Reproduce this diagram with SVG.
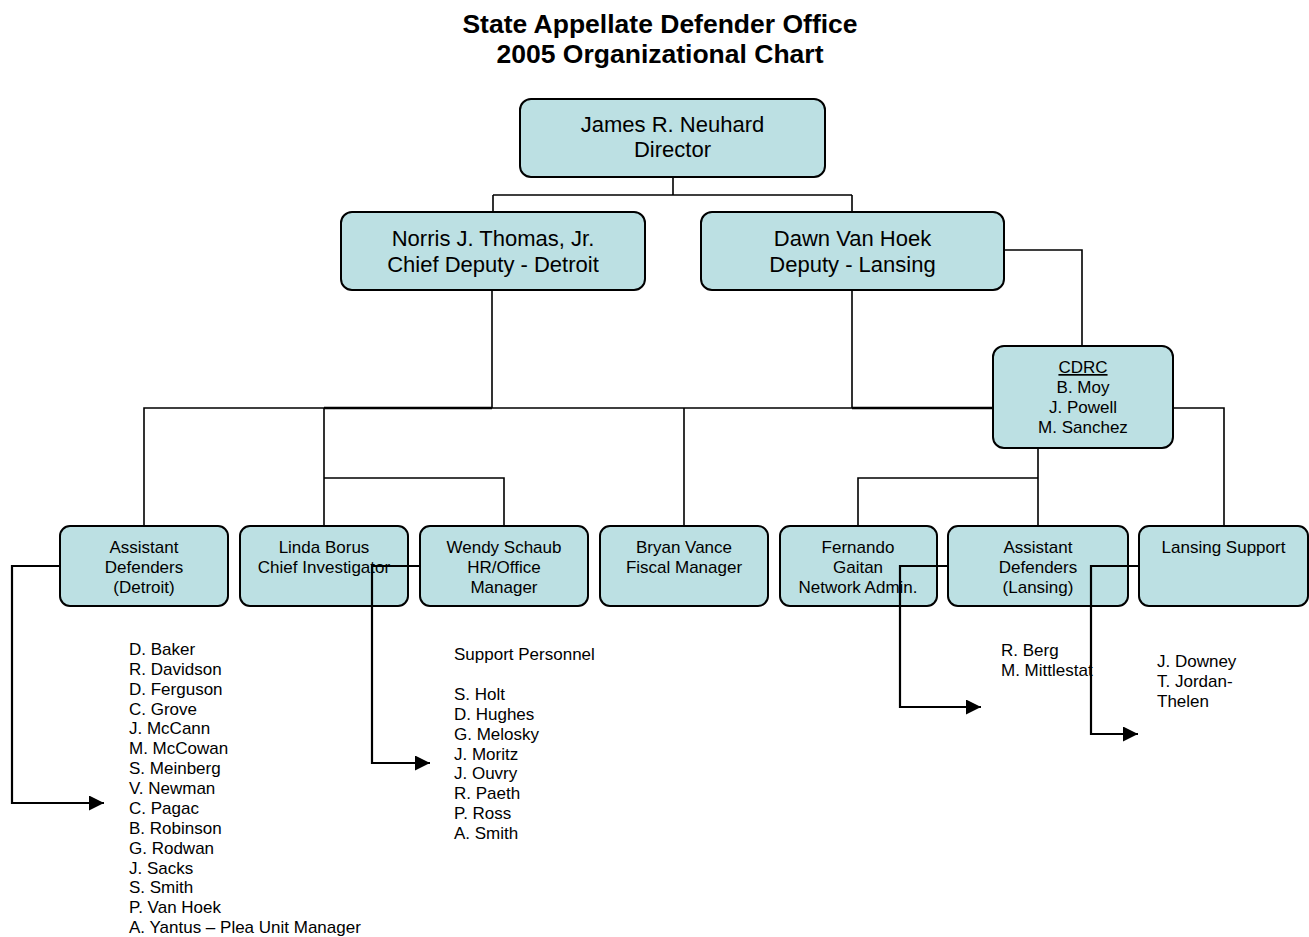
<svg xmlns="http://www.w3.org/2000/svg" width="1309" height="937" viewBox="0 0 1309 937">
<style>
text{font-family:"Liberation Sans",Arial,sans-serif;fill:#000}
.title{font-size:26.5px;font-weight:bold;text-anchor:middle}
.box{fill:#BCE0E3;stroke:#000;stroke-width:2}
.big{font-size:22px;text-anchor:middle}
.sm{font-size:17px;text-anchor:middle}
.list{font-size:17px}
.ln{fill:none;stroke:#000;stroke-width:1.6}
.thk{fill:none;stroke:#000;stroke-width:2.6}
.arr{fill:none;stroke:#000;stroke-width:2.2;marker-end:url(#ah)}
</style>
<defs>
<marker id="ah" viewBox="0 0 15 15" refX="15" refY="7.5" markerWidth="15" markerHeight="15" markerUnits="userSpaceOnUse" orient="auto">
<path d="M0,0 L15,7.5 L0,15 z" fill="#000"/>
</marker>
</defs>
<rect width="1309" height="937" fill="#fff"/>
<g id="title">
<text class="title" x="660" y="33">State Appellate Defender Office</text>
<text class="title" x="660" y="63">2005 Organizational Chart</text>
</g>
<g id="director">
<rect class="box" x="520" y="99" width="305" height="78" rx="11"/>
<text class="big" x="672.5" y="132">James R. Neuhard</text>
<text class="big" x="672.5" y="157">Director</text>
</g>
<g id="norris">
<rect class="box" x="341" y="212" width="304" height="78" rx="11"/>
<text class="big" x="493" y="246">Norris J. Thomas, Jr.</text>
<text class="big" x="493" y="272">Chief Deputy - Detroit</text>
</g>
<g id="dawn">
<rect class="box" x="701" y="212" width="303" height="78" rx="11"/>
<text class="big" x="852.5" y="246">Dawn Van Hoek</text>
<text class="big" x="852.5" y="272">Deputy - Lansing</text>
</g>
<g id="cdrc">
<rect class="box" x="993" y="346" width="180" height="102" rx="11"/>
<text class="sm" x="1083" y="373" text-decoration="underline">CDRC</text>
<text class="sm" x="1083" y="393">B. Moy</text>
<text class="sm" x="1083" y="413">J. Powell</text>
<text class="sm" x="1083" y="433">M. Sanchez</text>
</g>
<g id="asst-detroit">
<rect class="box" x="60" y="526" width="168" height="80" rx="10"/>
<text class="sm" x="144" y="553">Assistant</text>
<text class="sm" x="144" y="573">Defenders</text>
<text class="sm" x="144" y="593">(Detroit)</text>
</g>
<g id="linda">
<rect class="box" x="240" y="526" width="168" height="80" rx="10"/>
<text class="sm" x="324" y="553">Linda Borus</text>
<text class="sm" x="324" y="573">Chief Investigator</text>
</g>
<g id="wendy">
<rect class="box" x="420" y="526" width="168" height="80" rx="10"/>
<text class="sm" x="504" y="553">Wendy Schaub</text>
<text class="sm" x="504" y="573">HR/Office</text>
<text class="sm" x="504" y="593">Manager</text>
</g>
<g id="bryan">
<rect class="box" x="600" y="526" width="168" height="80" rx="10"/>
<text class="sm" x="684" y="553">Bryan Vance</text>
<text class="sm" x="684" y="573">Fiscal Manager</text>
</g>
<g id="fernando">
<rect class="box" x="780" y="526" width="157" height="80" rx="10"/>
<text class="sm" x="858" y="553">Fernando</text>
<text class="sm" x="858" y="573">Gaitan</text>
<text class="sm" x="858" y="593">Network Admin.</text>
</g>
<g id="asst-lansing">
<rect class="box" x="948" y="526" width="180" height="80" rx="10"/>
<text class="sm" x="1038" y="553">Assistant</text>
<text class="sm" x="1038" y="573">Defenders</text>
<text class="sm" x="1038" y="593">(Lansing)</text>
</g>
<g id="lansing-support">
<rect class="box" x="1139" y="526" width="169" height="80" rx="10"/>
<text class="sm" x="1223.5" y="553">Lansing Support</text>
</g>
<g id="list-detroit">
<text class="list" x="129" y="655">D. Baker</text>
<text class="list" x="129" y="674.9">R. Davidson</text>
<text class="list" x="129" y="694.7">D. Ferguson</text>
<text class="list" x="129" y="714.6">C. Grove</text>
<text class="list" x="129" y="734.4">J. McCann</text>
<text class="list" x="129" y="754.3">M. McCowan</text>
<text class="list" x="129" y="774.2">S. Meinberg</text>
<text class="list" x="129" y="794">V. Newman</text>
<text class="list" x="129" y="813.9">C. Pagac</text>
<text class="list" x="129" y="833.7">B. Robinson</text>
<text class="list" x="129" y="853.6">G. Rodwan</text>
<text class="list" x="129" y="873.5">J. Sacks</text>
<text class="list" x="129" y="893.3">S. Smith</text>
<text class="list" x="129" y="913.2">P. Van Hoek</text>
<text class="list" x="129" y="933">A. Yantus – Plea Unit Manager</text>
</g>
<g id="list-support">
<text class="list" x="454" y="660">Support Personnel</text>
<text class="list" x="454" y="700">S. Holt</text>
<text class="list" x="454" y="719.9">D. Hughes</text>
<text class="list" x="454" y="739.7">G. Melosky</text>
<text class="list" x="454" y="759.6">J. Moritz</text>
<text class="list" x="454" y="779.4">J. Ouvry</text>
<text class="list" x="454" y="799.3">R. Paeth</text>
<text class="list" x="454" y="819.2">P. Ross</text>
<text class="list" x="454" y="839">A. Smith</text>
</g>
<g id="list-network">
<text class="list" x="1001" y="656">R. Berg</text>
<text class="list" x="1001" y="676">M. Mittlestat</text>
</g>
<g id="list-lansing">
<text class="list" x="1157" y="667">J. Downey</text>
<text class="list" x="1157" y="687">T. Jordan-</text>
<text class="list" x="1157" y="707">Thelen</text>
</g>
<g id="connectors">
<path class="ln" d="M673,177 V195 M493,195 H852 M493,195 V212 M852,195 V212"/>
<path class="ln" d="M492,290 V408 M852,290 V408 M144,526 V408 H993"/>
<path class="thk" d="M324,408 H492 M852,408 H993"/>
<path class="ln" d="M324,408 V526 M324,478 H504 V526 M684,408 V526"/>
<path class="ln" d="M1004,250 H1082 V346 M1173,408 H1224 V526 M1038,448 V526 M1038,478 H858 V526"/>
<path class="arr" d="M60,566 H12 V803 H104"/>
<path class="arr" d="M420,566 H372 V763 H430"/>
<path class="arr" d="M948,566 H900 V707 H981"/>
<path class="arr" d="M1139,566 H1091 V734 H1138"/>
</g>
</svg>
